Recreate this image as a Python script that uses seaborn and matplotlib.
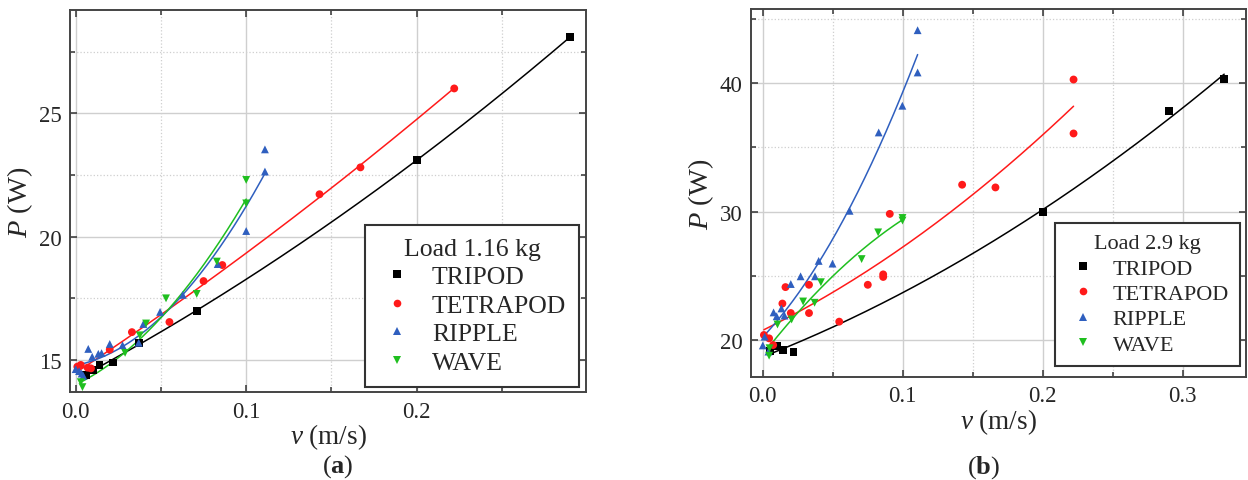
import numpy as np
import pandas as pd
import matplotlib
matplotlib.use("Agg")
import matplotlib.pyplot as plt
from matplotlib.ticker import MultipleLocator
import seaborn as sns

# ---------------- data ----------------
series_names = ["TRIPOD", "TETRAPOD", "RIPPLE", "WAVE"]

# Panel (a): load 1.16 kg
tri_a_v = [0.006, 0.010, 0.014, 0.022, 0.037, 0.071, 0.200, 0.290]
tri_a_p = [14.40, 14.60, 14.80, 14.90, 15.70, 17.00, 23.10, 28.10]
tet_a_v = [0.001, 0.003, 0.007, 0.009, 0.020, 0.033, 0.055, 0.075, 0.086, 0.143, 0.167, 0.222]
tet_a_p = [14.73, 14.80, 14.69, 14.66, 15.42, 16.13, 16.54, 18.20, 18.85, 21.72, 22.81, 26.01]
rip_a_v = [0.000, 0.002, 0.0035, 0.0045, 0.0074, 0.0097, 0.0133, 0.0152, 0.020, 0.0275,
           0.037, 0.0397, 0.0495, 0.0628, 0.0833, 0.100, 0.111, 0.111]
rip_a_p = [14.63, 14.55, 14.45, 14.36, 15.45, 15.13, 15.25, 15.28, 15.65, 15.60,
           15.70, 16.46, 16.95, 17.64, 18.89, 20.23, 22.64, 23.54]
wav_a_v = [0.003, 0.004, 0.029, 0.0376, 0.0413, 0.053, 0.071, 0.0828, 0.100, 0.100]
wav_a_p = [14.10, 13.90, 15.29, 16.00, 16.48, 17.50, 17.68, 18.99, 21.35, 22.30]

# Panel (b): load 2.9 kg
tri_b_v = [0.005, 0.010, 0.0143, 0.0219, 0.200, 0.290, 0.3296]
tri_b_p = [19.15, 19.56, 19.22, 19.04, 30.0, 37.8, 40.3]
tet_b_v = [0.0008, 0.0045, 0.0074, 0.014, 0.0162, 0.020, 0.033, 0.033, 0.0546, 0.075,
           0.086, 0.086, 0.0907, 0.1424, 0.1662, 0.222, 0.222]
tet_b_p = [20.39, 20.13, 19.61, 22.84, 24.12, 22.10, 24.30, 22.10, 21.43, 24.30,
           25.11, 24.91, 29.82, 32.09, 31.88, 36.08, 40.28]
rip_b_v = [0.0, 0.0013, 0.004, 0.0077, 0.0099, 0.0133, 0.0155, 0.020, 0.027, 0.0373,
           0.0399, 0.0498, 0.062, 0.0828, 0.0997, 0.1106, 0.1106]
rip_b_p = [19.58, 20.26, 19.10, 22.15, 21.85, 22.46, 21.90, 24.36, 24.96, 24.96,
           26.16, 25.95, 30.06, 36.16, 38.24, 40.83, 44.12]
wav_b_v = [0.0045, 0.0048, 0.0105, 0.0206, 0.0288, 0.037, 0.0415, 0.0706, 0.0824, 0.0998, 0.0998]
wav_b_p = [18.78, 19.36, 21.21, 21.60, 23.00, 22.90, 24.50, 26.30, 28.38, 29.30, 29.50]

legend_titles = ["Load 1.16 kg", "Load 2.9 kg"]
panel_labels = ["a", "b"]
x_tick_labels_a = [0.0, 0.1, 0.2]
y_tick_labels_a = [15, 20, 25]
x_tick_labels_b = [0.0, 0.1, 0.2, 0.3]
y_tick_labels_b = [20, 30, 40]

# ---------------- style ----------------
sns.set_style("white")
plt.rcParams["font.family"] = ["Liberation Serif", "DejaVu Serif"]
plt.rcParams["mathtext.fontset"] = "custom"
plt.rcParams["mathtext.rm"] = "Liberation Serif"
plt.rcParams["mathtext.it"] = "Liberation Serif:italic"
plt.rcParams["mathtext.bf"] = "Liberation Serif:bold"

colors = {"TRIPOD": "#000000", "TETRAPOD": "#ff1a1a", "RIPPLE": "#2f5fbf", "WAVE": "#1fbf1f"}
markers = {"TRIPOD": "s", "TETRAPOD": "o", "RIPPLE": "^", "WAVE": "v"}


def make_df(vs, ps):
    rows = []
    for name, v, p in zip(series_names, vs, ps):
        for a, b in zip(v, p):
            rows.append({"series": name, "v": a, "P": b})
    return pd.DataFrame(rows)


df_a = make_df([tri_a_v, tet_a_v, rip_a_v, wav_a_v], [tri_a_p, tet_a_p, rip_a_p, wav_a_p])
df_b = make_df([tri_b_v, tet_b_v, rip_b_v, wav_b_v], [tri_b_p, tet_b_p, rip_b_p, wav_b_p])

fig = plt.figure(figsize=(12.48, 4.81), dpi=100)
ax_a = fig.add_axes([0.0561, 0.1823, 0.4135, 0.7948])
ax_b = fig.add_axes([0.6018, 0.2141, 0.3966, 0.7651])


def draw(ax, df, xlim, ylim, xmaj, ymaj, ymin_step, xticks, yticks, title, legbox, legfs):
    # fitted curves
    for name in series_names:
        sub = df[df.series == name]
        coef = np.polyfit(sub.v, sub.P, 2)
        xs = np.linspace(sub.v.min(), sub.v.max(), 200)
        fit = pd.DataFrame({"v": xs, "P": np.polyval(coef, xs)})
        sns.lineplot(data=fit, x="v", y="P", ax=ax, color=colors[name], lw=1.1,
                     legend=False, zorder=3)
    handles = []
    for name in series_names:
        sub = df[df.series == name]
        sns.scatterplot(data=sub, x="v", y="P", ax=ax, color=colors[name],
                        marker=markers[name], s=32, edgecolor="none", legend=False, zorder=4)
        h = plt.Line2D([], [], ls="none", marker=markers[name], color=colors[name],
                       markersize=5.5, markeredgewidth=0)
        handles.append(h)

    ax.set_xlim(*xlim)
    ax.set_ylim(*ylim)
    ax.xaxis.set_major_locator(MultipleLocator(xmaj))
    ax.xaxis.set_minor_locator(MultipleLocator(xmaj / 2))
    ax.yaxis.set_major_locator(MultipleLocator(ymaj))
    ax.yaxis.set_minor_locator(MultipleLocator(ymin_step))
    ax.set_xticks(xticks)
    ax.set_xticklabels([f"{t:.1f}" for t in xticks])
    ax.set_yticks(yticks)
    ax.set_yticklabels([str(t) for t in yticks])
    ax.grid(which="major", color="#cfcfcf", lw=1.0, ls="-", zorder=0)
    ax.grid(which="minor", color="#cfcfcf", lw=0.9, ls=":", zorder=0)
    ax.set_axisbelow(True)
    ax.tick_params(which="both", direction="in", top=True, right=True, bottom=True, left=True,
                   color="#333333", width=1.1, labelsize=16.5)
    ax.tick_params(which="major", length=5, pad=6)
    ax.tick_params(which="minor", length=3.5)
    for sp in ax.spines.values():
        sp.set_color("#444444")
        sp.set_linewidth(1.4)
    ax.set_xlabel(r"$v$ (m/s)", fontsize=19.5, labelpad=0)
    ax.set_ylabel(r"$P$ (W)", fontsize=20.5, labelpad=3)

    leg = ax.legend(handles, series_names, title=title, loc="lower left",
                    bbox_to_anchor=legbox, mode="expand", borderaxespad=0,
                    fontsize=legfs, title_fontsize=legfs, frameon=True, fancybox=False,
                    framealpha=1, edgecolor="#333333", labelspacing=0.22,
                    handletextpad=0.6, handlelength=1.5, borderpad=0.5)
    leg.get_frame().set_linewidth(1.5)
    leg.set_zorder(10)


draw(ax_a, df_a, (-0.0033, 0.2993), (13.69, 29.19), 0.1, 5, 2.5,
     x_tick_labels_a, y_tick_labels_a, legend_titles[0], (0.572, 0.014, 0.414, 0.473), 18.5)
draw(ax_b, df_b, (-0.0084, 0.3452), (17.12, 45.77), 0.1, 10, 5,
     x_tick_labels_b, y_tick_labels_b, legend_titles[1], (0.614, 0.030, 0.374, 0.4075), 16)

fig.text(0.271, 0.029, r"($\mathbf{" + panel_labels[0] + r"}$)", ha="center", va="center", fontsize=19)
fig.text(0.788, 0.027, r"($\mathbf{" + panel_labels[1] + r"}$)", ha="center", va="center", fontsize=19)

fig.savefig("out.png", dpi=100)
